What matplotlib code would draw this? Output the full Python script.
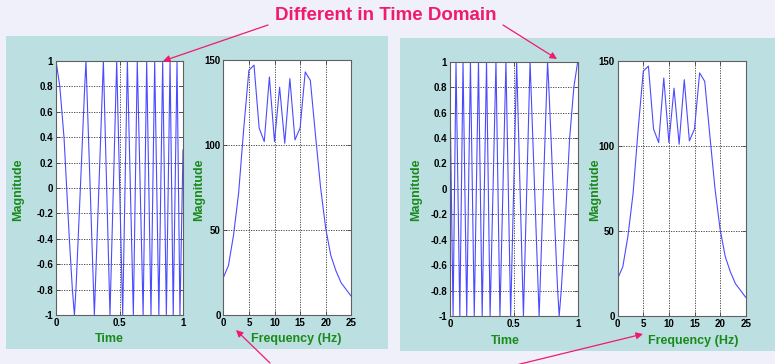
import matplotlib
matplotlib.use("Agg")
import matplotlib.pyplot as plt
from matplotlib.patches import Rectangle, FancyArrowPatch

plt.rcParams['font.family'] = ['Liberation Sans', 'DejaVu Sans']

# ---- data ----
# Left time-domain signal (chirp, rising frequency): (time, value) at read points
t_left = [0.0, 0.030, 0.063, 0.084, 0.105, 0.129, 0.145, 0.157, 0.192, 0.226, 0.236,
          0.302, 0.373, 0.425, 0.478, 0.525, 0.562, 0.609, 0.640, 0.686, 0.714,
          0.748, 0.777, 0.810, 0.840, 0.869, 0.898, 0.923, 0.953, 0.976, 1.0]
v_left = [1.0, 0.8, 0.4, 0.0, -0.4, -0.8, -1.0, -0.8, 0.0, 0.8, 1.0,
          -1.0, 1.0, -1.0, 1.0, -1.0, 1.0, -1.0, 1.0, -1.0, 1.0,
          -1.0, 1.0, -1.0, 1.0, -1.0, 1.0, -1.0, 1.0, -1.0, 0.3]

# Right time-domain signal (time reversed chirp)
t_right = [0.0, 0.024, 0.047, 0.077, 0.102, 0.131, 0.160, 0.190, 0.223, 0.252, 0.286,
           0.314, 0.360, 0.391, 0.438, 0.475, 0.522, 0.575, 0.627, 0.698, 0.764,
           0.774, 0.808, 0.843, 0.855, 0.871, 0.895, 0.916, 0.937, 0.970, 1.0]
v_right = [0.75, -1.0, 1.0, -1.0, 1.0, -1.0, 1.0, -1.0, 1.0, -1.0, 1.0,
           -1.0, 1.0, -1.0, 1.0, -1.0, 1.0, -1.0, 1.0, -1.0, 1.0,
           0.8, 0.0, -0.8, -1.0, -0.8, -0.4, 0.0, 0.4, 0.8, 1.0]

# Magnitude spectrum (identical for both signals)
freq = [0, 1, 2, 3, 4, 5, 6, 7, 8, 9, 10, 11, 12, 13, 14, 15, 16, 17, 18, 19, 20, 21, 22, 23, 24, 25]
mag = [22, 29, 47, 72, 110, 144, 147, 110, 102, 140, 102, 134, 101, 139, 103, 110,
       143, 138, 106, 75, 51, 35, 26, 19, 15, 11]

time_ticks = [0, 0.5, 1]
time_ticklabels = ['0', '0.5', '1']
amp_ticks = [-1, -0.8, -0.6, -0.4, -0.2, 0, 0.2, 0.4, 0.6, 0.8, 1]
amp_ticklabels = ['-1', '-0.8', '-0.6', '-0.4', '-0.2', '0', '0.2', '0.4', '0.6', '0.8', '1']
freq_ticks = [0, 5, 10, 15, 20, 25]
mag_ticks = [0, 50, 100, 150]

title_text = "Different in Time Domain"
ylab = "Magnitude"
xlab_time = "Time"
xlab_freq = "Frequency (Hz)"

# ---- styling ----
W, H = 775, 364
fig = plt.figure(figsize=(W / 100, H / 100), dpi=100)
fig.patch.set_facecolor('#f0f0fa')

line_c = '#4b4bff'
green = '#1a8a1a'
pink = '#f01a6e'
box_c = '#bcdfe2'


def fx(x):
    return x / W


def fy(y):
    return 1 - y / H


# background boxes
fig.add_artist(Rectangle((fx(6), fy(349)), fx(388 - 6), (349 - 36) / H,
                         transform=fig.transFigure, facecolor=box_c, edgecolor='none', zorder=0))
fig.add_artist(Rectangle((fx(400), fy(351)), fx(775 - 400), (351 - 38) / H,
                         transform=fig.transFigure, facecolor=box_c, edgecolor='none', zorder=0))


def make_ax(x0, x1, ytop, ybot):
    ax = fig.add_axes([fx(x0), fy(ybot), (x1 - x0) / W, (ybot - ytop) / H])
    ax.set_facecolor('white')
    for s in ax.spines.values():
        s.set_color('#606060')
        s.set_linewidth(0.8)
    ax.tick_params(direction='in', length=3, width=0.6, labelsize=7, pad=2,
                   top=True, right=True, colors='#404040', labelcolor='black')
    ax.grid(True, color='#333333', linestyle=(0, (1.5, 1.5)), linewidth=0.6)
    return ax


def style_time(ax, t, v):
    ax.plot(t, v, color=line_c, linewidth=0.8)
    ax.set_xlim(0, 1)
    ax.set_ylim(-1, 1)
    ax.set_xticks(time_ticks)
    ax.set_xticklabels(time_ticklabels, fontweight='bold')
    ax.set_yticks(amp_ticks)
    ax.set_yticklabels(amp_ticklabels, fontweight='bold')


def style_freq(ax):
    ax.plot(freq, mag, color=line_c, linewidth=0.8)
    ax.set_xlim(0, 25)
    ax.set_ylim(0, 150)
    ax.set_xticks(freq_ticks)
    ax.set_xticklabels([str(f) for f in freq_ticks], fontweight='bold')
    ax.set_yticks(mag_ticks)
    ax.set_yticklabels([str(m) for m in mag_ticks], fontweight='bold')


ax1 = make_ax(56, 183, 61, 315)
style_time(ax1, t_left, v_left)
ax2 = make_ax(223.3, 351.3, 60, 315)
style_freq(ax2)
ax3 = make_ax(450, 577.7, 61.7, 316)
style_time(ax3, t_right, v_right)
ax4 = make_ax(617.7, 745.7, 61, 316)
style_freq(ax4)

lab_kw = dict(color=green, fontsize=9, fontweight='bold', ha='center', va='center')
fig.text(fx(18), fy(190), ylab, rotation=90, **lab_kw)
fig.text(fx(199), fy(190), ylab, rotation=90, **lab_kw)
fig.text(fx(416), fy(190), ylab, rotation=90, **lab_kw)
fig.text(fx(595), fy(190), ylab, rotation=90, **lab_kw)
fig.text(fx(109), fy(339), xlab_time, **lab_kw)
fig.text(fx(296), fy(339), xlab_freq, **lab_kw)
fig.text(fx(505.5), fy(341), xlab_time, **lab_kw)
fig.text(fx(693), fy(341), xlab_freq, **lab_kw)

fig.text(fx(386), fy(16), title_text, color=pink, fontsize=13.5, fontweight='bold',
         ha='center', va='center')


def arrow(p0, p1):
    fig.add_artist(FancyArrowPatch((fx(p0[0]), fy(p0[1])), (fx(p1[0]), fy(p1[1])),
                                   transform=fig.transFigure, arrowstyle='-|>',
                                   mutation_scale=10, color=pink, linewidth=0.9,
                                   shrinkA=0, shrinkB=0, zorder=10))


arrow((268, 25), (163, 61))
arrow((503, 25), (557, 59))
arrow((270, 363), (236, 330))
arrow((512, 366), (643, 334))

fig.savefig('out.png', dpi=100, facecolor=fig.get_facecolor())
